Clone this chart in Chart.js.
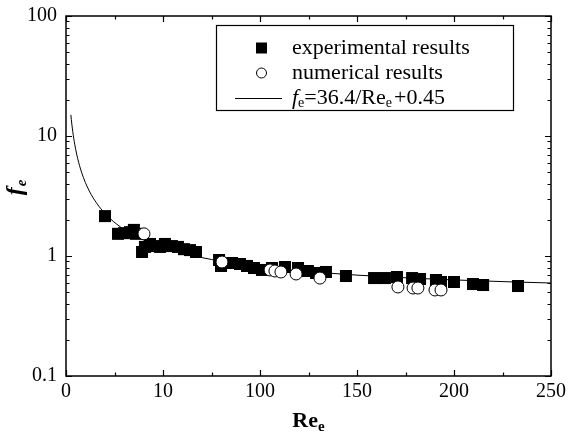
<!DOCTYPE html>
<html>
<head>
<meta charset="utf-8">
<script src="https://cdn.jsdelivr.net/npm/chart.js@4/dist/chart.umd.min.js"></script>
<style>
  html, body { margin: 0; padding: 0; background: #fff; }
  #wrap { width: 568px; height: 437px; position: relative; }
</style>
</head>
<body>
<div id="wrap"><canvas id="c" width="568" height="437"></canvas></div>
<script>
// Experimental friction factor vs. Reynolds number
const expRe = [20.1, 26.8, 29.9, 33.0, 36.1, 35.0, 39.2, 40.7, 43.3, 45.9, 48.5, 51.0, 54.6, 57.7, 60.8, 63.9, 67.0,
  78.9, 79.9, 85.6, 89.7, 93.3, 96.9, 101.0, 106.2, 112.9, 119.6, 124.7, 128.9, 134.0, 144.3,
  158.8, 164.4, 170.6, 178.4, 182.5, 190.7, 193.3, 200.0, 209.8, 215.0, 233.0];
const expF = [2.15, 1.53, 1.55, 1.58, 1.53, 1.65, 1.08, 1.19, 1.26, 1.21, 1.19, 1.26, 1.21, 1.19, 1.14, 1.12, 1.08,
  0.926, 0.826, 0.874, 0.858, 0.826, 0.794, 0.765, 0.794, 0.810, 0.794, 0.750, 0.722, 0.736, 0.681,
  0.655, 0.655, 0.668, 0.655, 0.643, 0.631, 0.607, 0.607, 0.584, 0.573, 0.562];

// Numerical results
const numRe = [40.2, 80.4, 105.2, 107.7, 110.8, 118.6, 130.9, 171.1, 178.9, 181.4, 190.2, 193.3];
const numF = [1.53, 0.891, 0.765, 0.750, 0.736, 0.708, 0.655, 0.552, 0.541, 0.541, 0.521, 0.521];

// Correlation f_e = A / Re_e + B
const fitA = 36.4;
const fitB = 0.45;
const fitRe = [2.5, 3, 3.5, 4, 4.5, 5, 6, 7, 8, 9, 10, 12, 14, 16, 18, 20, 23, 26, 30, 35, 40, 45, 50, 60, 70, 80, 90,
  100, 115, 130, 150, 170, 190, 210, 230, 250];

// Axis ticks
const xTickValues = [0, 50, 100, 150, 200, 250];
const xTickLabels = ['0', '10', '100', '150', '200', '250'];
const xMinorTicks = [25, 75, 125, 175, 225];
const yTickValues = [0.1, 1, 10, 100];
const yTickLabels = ['0.1', '1', '10', '100'];

const SERIF = '"Liberation Serif", "Times New Roman", serif';

const expPts = expRe.map((r, i) => ({ x: r, y: expF[i] }));
const numPts = numRe.map((r, i) => ({ x: r, y: numF[i] }));
const fitPts = fitRe.map(r => ({ x: r, y: fitA / r + fitB }));

// Draws the frame, inward tick marks, tick labels, axis titles and the legend box
const decor = {
  id: 'decor',
  afterDraw(chart) {
    const ctx = chart.ctx;
    const a = chart.chartArea;
    const xs = chart.scales.x, ys = chart.scales.y;
    ctx.save();
    ctx.strokeStyle = '#000';
    ctx.lineWidth = 1.5;
    ctx.strokeRect(a.left, a.top, a.right - a.left, a.bottom - a.top);

    ctx.lineWidth = 1.2;
    ctx.beginPath();
    const xt = (v, len) => {
      const px = Math.round(xs.getPixelForValue(v)) + 0.5;
      ctx.moveTo(px, a.bottom); ctx.lineTo(px, a.bottom - len);
      ctx.moveTo(px, a.top); ctx.lineTo(px, a.top + len);
    };
    xTickValues.forEach(v => xt(v, 6));
    xMinorTicks.forEach(v => xt(v, 3.5));
    const yt = (v, len) => {
      const py = Math.round(ys.getPixelForValue(v)) + 0.5;
      ctx.moveTo(a.left, py); ctx.lineTo(a.left + len, py);
      ctx.moveTo(a.right, py); ctx.lineTo(a.right - len, py);
    };
    yTickValues.forEach(v => yt(v, 6));
    [0.1, 1, 10].forEach(d => { for (let k = 2; k <= 9; k++) yt(d * k, 3.5); });
    ctx.stroke();

    // tick labels
    ctx.fillStyle = '#000';
    ctx.font = '20px ' + SERIF;
    ctx.textAlign = 'center';
    ctx.textBaseline = 'top';
    xTickValues.forEach((v, i) => ctx.fillText(xTickLabels[i], xs.getPixelForValue(v), a.bottom + 6));
    ctx.textAlign = 'right';
    ctx.textBaseline = 'middle';
    yTickValues.forEach((v, i) => ctx.fillText(yTickLabels[i], a.left - 9, ys.getPixelForValue(v)));

    // x-axis title: Re with subscript e
    ctx.textBaseline = 'alphabetic';
    ctx.textAlign = 'left';
    ctx.font = 'bold 22px ' + SERIF;
    const reW = ctx.measureText('Re').width;
    ctx.font = 'bold 15px ' + SERIF;
    const eW = ctx.measureText('e').width;
    const cx = (a.left + a.right) / 2;
    let sx = cx - (reW + eW) / 2;
    ctx.font = 'bold 22px ' + SERIF;
    ctx.fillText('Re', sx, 427);
    ctx.font = 'bold 15px ' + SERIF;
    ctx.fillText('e', sx + reW, 431);

    // y-axis title: f with subscript e, rotated
    ctx.save();
    ctx.translate(22, 188);
    ctx.rotate(-Math.PI / 2);
    ctx.font = 'italic bold 24px ' + SERIF;
    const fW = ctx.measureText('f').width;
    ctx.font = 'italic bold 15px ' + SERIF;
    const e2W = ctx.measureText('e').width;
    ctx.font = 'italic bold 24px ' + SERIF;
    ctx.fillText('f', -(fW + e2W) / 2, 0);
    ctx.font = 'italic bold 15px ' + SERIF;
    ctx.fillText('e', -(fW + e2W) / 2 + fW + 1, 4);
    ctx.restore();

    // legend
    const L = 216, T = 25, R = 513, B = 110;
    ctx.fillStyle = '#fff';
    ctx.fillRect(L, T, R - L, B - T);
    ctx.lineWidth = 1.2;
    ctx.strokeRect(L + 0.5, T + 0.5, R - L, B - T);
    ctx.fillStyle = '#000';
    const rows = [48, 73, 98];
    ctx.fillRect(256, rows[0] - 5.5, 11, 11);
    ctx.beginPath();
    ctx.arc(261.5, rows[1], 5, 0, Math.PI * 2);
    ctx.fillStyle = '#fff'; ctx.fill();
    ctx.lineWidth = 1; ctx.strokeStyle = '#000'; ctx.stroke();
    ctx.beginPath();
    ctx.moveTo(235, rows[2] + 0.5); ctx.lineTo(282, rows[2] + 0.5);
    ctx.lineWidth = 1; ctx.stroke();

    ctx.fillStyle = '#000';
    ctx.textBaseline = 'middle';
    ctx.font = '22px ' + SERIF;
    ctx.fillText('experimental results', 292, rows[0]);
    ctx.fillText('numerical results', 292, rows[1]);
    // f_e=36.4/Re_e+0.45
    let tx = 292;
    const seg = (txt, font, dy) => {
      ctx.font = font;
      ctx.fillText(txt, tx, rows[2] + dy);
      tx += ctx.measureText(txt).width;
    };
    seg('f', 'italic 22px ' + SERIF, 0);
    seg('e', '14px ' + SERIF, 5);
    seg('=' + fitA + '/Re', '22px ' + SERIF, 0);
    seg('e', '14px ' + SERIF, 5);
    tx += 2;
    seg('+' + fitB, '22px ' + SERIF, 0);
    ctx.restore();
  }
};

new Chart(document.getElementById('c'), {
  type: 'scatter',
  data: {
    datasets: [
      {
        label: 'numerical results',
        data: numPts,
        order: 1,
        pointStyle: 'circle',
        pointRadius: 6,
        pointBackgroundColor: '#fff',
        pointBorderColor: '#000',
        pointBorderWidth: 1,
        showLine: false
      },
      {
        label: 'experimental results',
        data: expPts,
        order: 2,
        pointStyle: 'rect',
        pointRadius: 8.5,
        pointBackgroundColor: '#000',
        pointBorderColor: '#000',
        pointBorderWidth: 0,
        showLine: false
      },
      {
        label: 'fit',
        data: fitPts,
        order: 3,
        showLine: true,
        pointRadius: 0,
        borderColor: '#000',
        borderWidth: 1,
        cubicInterpolationMode: 'monotone',
        fill: false
      }
    ]
  },
  options: {
    responsive: false,
    animation: false,
    devicePixelRatio: 1,
    layout: { padding: { top: 16, right: 17, left: 0, bottom: 0 } },
    plugins: { legend: { display: false }, tooltip: { enabled: false } },
    scales: {
      x: {
        type: 'linear',
        min: 0, max: 250,
        afterFit: s => { s.height = 61; },
        grid: { display: false, drawTicks: false },
        border: { display: false },
        ticks: { display: false }
      },
      y: {
        type: 'logarithmic',
        min: 0.1, max: 100,
        afterFit: s => { s.width = 66; },
        grid: { display: false, drawTicks: false },
        border: { display: false },
        ticks: { display: false }
      }
    }
  },
  plugins: [decor]
});
</script>
</body>
</html>
